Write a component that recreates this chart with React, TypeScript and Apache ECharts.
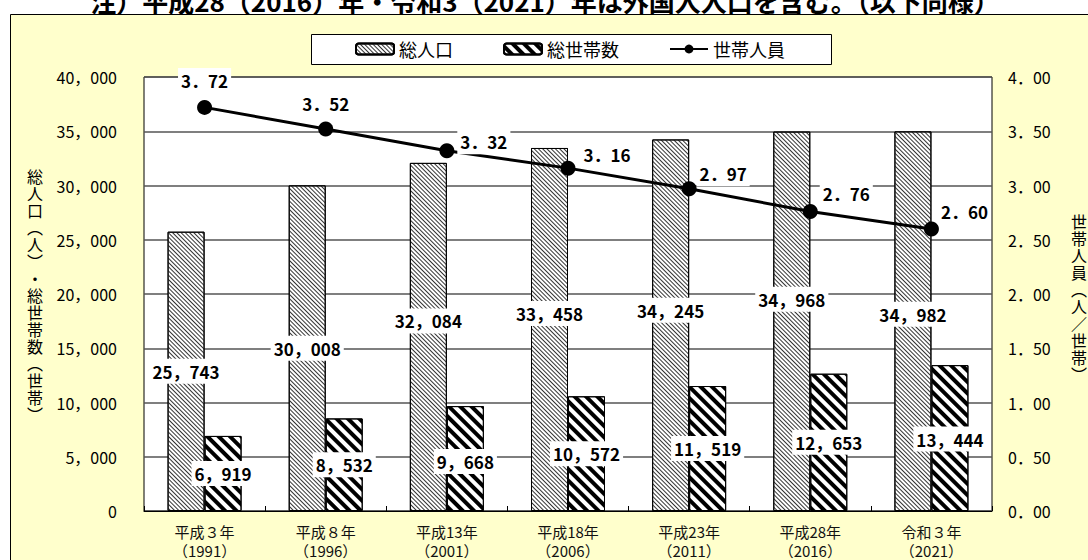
import React, { useEffect, useRef } from "react";
import * as echarts from "echarts";

const FONT = '"Noto Sans CJK JP", "Noto Sans", sans-serif';

const categories = [
  "平成３年\n（1991）",
  "平成８年\n（1996）",
  "平成13年\n（2001）",
  "平成18年\n（2006）",
  "平成23年\n（2011）",
  "平成28年\n（2016）",
  "令和３年\n（2021）",
];
const totalPopulation = [25743, 30008, 32084, 33458, 34245, 34968, 34982];
const totalHouseholds = [6919, 8532, 9668, 10572, 11519, 12653, 13444];
const membersPerHousehold = [3.72, 3.52, 3.32, 3.16, 2.97, 2.76, 2.6];

const seriesNames = ["総人口", "総世帯数", "世帯人員"];
const titleText = "注）平成28（2016）年・令和3（2021）年は外国人人口を含む。（以下同様）";
const leftAxisName = "総人口︵人︶・総世帯数︵世帯︶";
const rightAxisName = "世帯人員︵人／世帯︶";

// label placement tweaks (styling only)
const popLabelShift = [0, 0, -16, -16, -15, -22, -7];
const hhLabelShift = [0, 0, 3, 0, 0, 0, 1];
const lineLabelShift = [
  [0, -27],
  [0, -26],
  [37, -9],
  [39, -14],
  [34, -15],
  [36, -18],
  [33, -17],
];

const fmtInt = (v: number) =>
  String(v).replace(/\B(?=(\d{3})+(?!\d))/g, "，");
const fmtDec = (v: number) => v.toFixed(2).replace(".", "．");

export default function App() {
  const ref = useRef<HTMLDivElement>(null);
  useEffect(() => {
    if (!ref.current) return;
    const chart = echarts.init(ref.current, undefined, { renderer: "svg" });
    const labelBase = {
      show: true,
      color: "#000",
      fontFamily: FONT,
      fontSize: 17,
      fontWeight: "bold",
      backgroundColor: "#fff",
      padding: [3, 3, 2, 3],
      lineHeight: 20,
    };
    const vText = (s: string) => s.split("").join("\n");
    const option: any = {
      animation: false,
      textStyle: { fontFamily: FONT },
      graphic: {
        elements: [
          {
            type: "rect",
            z: -100,
            silent: true,
            shape: { x: 10.5, y: 14.5, width: 1100, height: 600 },
            style: { fill: "#FFFFCC", stroke: "#000", lineWidth: 1 },
          },
          {
            type: "rect",
            z: 5,
            silent: true,
            shape: { x: 311.5, y: 34.5, width: 520, height: 30 },
            style: { fill: "#fff", stroke: "#000", lineWidth: 1 },
          },
          {
            type: "text",
            z: 5,
            x: 545,
            y: 0,
            style: {
              text: titleText,
              font: `bold 26px ${FONT}`,
              fill: "#000",
              align: "center",
              verticalAlign: "middle",
              textAlign: "center",
              textVerticalAlign: "middle",
            },
          },
          {
            type: "text",
            z: 5,
            x: 35,
            y: 295,
            style: {
              text: vText(leftAxisName),
              font: `16px ${FONT}`,
              lineHeight: 17,
              fill: "#000",
              align: "center",
              verticalAlign: "middle",
              textAlign: "center",
              textVerticalAlign: "middle",
            },
          },
          {
            type: "text",
            z: 5,
            x: 1079,
            y: 297,
            style: {
              text: vText(rightAxisName),
              font: `16px ${FONT}`,
              lineHeight: 17,
              fill: "#000",
              align: "center",
              verticalAlign: "middle",
              textAlign: "center",
              textVerticalAlign: "middle",
            },
          },
        ],
      },
      legend: {
        z: 10,
        left: 355,
        top: 40,
        padding: 0,
        itemWidth: 38,
        itemHeight: 11,
        itemGap: 50,
        textStyle: { fontSize: 18, color: "#000", fontFamily: FONT },
        data: seriesNames,
      },
      grid: {
        left: 144,
        top: 77,
        right: 96,
        bottom: 44,
        show: true,
        backgroundColor: "#fff",
        borderColor: "#000",
        borderWidth: 1,
      },
      xAxis: {
        type: "category",
        data: categories,
        axisLine: { lineStyle: { color: "#000", width: 1 } },
        axisTick: { show: true, inside: true, length: 5, lineStyle: { color: "#000" } },
        axisLabel: {
          color: "#111",
          fontSize: 15,
          lineHeight: 19,
          margin: 11,
          fontFamily: FONT,
        },
      },
      yAxis: [
        {
          type: "value",
          min: 0,
          max: 40000,
          interval: 5000,
          axisLine: { show: false },
          axisTick: { show: false },
          splitLine: { lineStyle: { color: "#555", width: 1.5 } },
          axisLabel: {
            margin: 27,
            fontSize: 16,
            color: "#000",
            fontFamily: FONT,
            formatter: (v: number) => fmtInt(v),
          },
        },
        {
          type: "value",
          min: 0,
          max: 4,
          interval: 0.5,
          axisLine: { show: false },
          axisTick: { show: false },
          splitLine: { show: false },
          axisLabel: {
            margin: 16,
            fontSize: 16,
            color: "#000",
            fontFamily: FONT,
            formatter: (v: number) => fmtDec(v),
          },
        },
      ],
      series: [
        {
          name: seriesNames[0],
          type: "bar",
          barWidth: 37,
          barGap: "0%",
          itemStyle: {
            color: "#fff",
            borderColor: "#000",
            borderWidth: 1,
            decal: {
              symbol: "rect",
              symbolSize: 1,
              symbolKeepAspect: false,
              dashArrayX: [1, 0],
              dashArrayY: [1, 2],
              rotation: Math.PI / 4,
              color: "#333",
            },
          },
          label: {
            ...labelBase,
            position: "inside",
            formatter: (p: any) => fmtInt(p.value),
          },
          data: totalPopulation.map((v, i) => ({
            value: v,
            label: { offset: [0, popLabelShift[i]] },
          })),
        },
        {
          name: seriesNames[1],
          type: "bar",
          barWidth: 37,
          barGap: "0%",
          itemStyle: {
            color: "#fff",
            borderColor: "#000",
            borderWidth: 1,
            decal: {
              symbol: "rect",
              symbolSize: 1,
              symbolKeepAspect: false,
              dashArrayX: [1, 0],
              dashArrayY: [4, 4],
              rotation: Math.PI / 4,
              color: "#000",
            },
          },
          label: {
            ...labelBase,
            position: "inside",
            formatter: (p: any) => fmtInt(p.value),
          },
          data: totalHouseholds.map((v, i) => ({
            value: v,
            label: { offset: [0, hhLabelShift[i]] },
          })),
        },
        {
          name: seriesNames[2],
          type: "line",
          yAxisIndex: 1,
          symbol: "circle",
          symbolSize: 15,
          lineStyle: { color: "#000", width: 3 },
          itemStyle: { color: "#000" },
          z: 4,
          label: {
            ...labelBase,
            position: "inside",
            formatter: (p: any) => fmtDec(p.value),
          },
          data: membersPerHousehold.map((v, i) => ({
            value: v,
            label: { offset: lineLabelShift[i] },
          })),
        },
      ],
    };
    chart.setOption(option);
    return () => chart.dispose();
  }, []);
  return (
    <div
      ref={ref}
      style={{ position: "absolute", left: 0, top: 0, width: 1088, height: 560 }}
    />
  );
}
